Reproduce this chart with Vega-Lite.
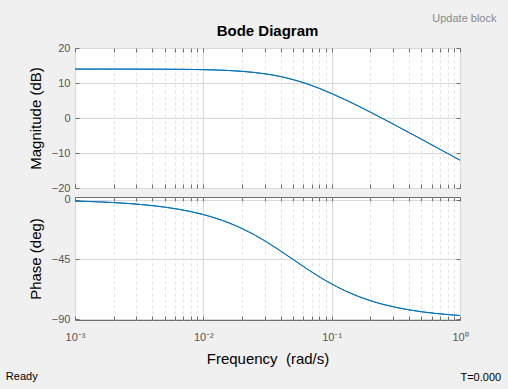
{
  "$schema": "https://vega.github.io/schema/vega-lite/v6.json",
  "background": "#f0f0f0",
  "padding": {"left": 5, "top": 12, "right": 8, "bottom": 7},
  "config": {
    "font": "Liberation Sans",
    "view": {"fill": "white", "stroke": "#6e6e6e", "strokeWidth": 1},
    "concat": {"spacing": 1},
    "axis": {
      "domain": false,
      "tickColor": "#6e6e6e",
      "tickSize": -4,
      "labelColor": "#555555",
      "labelFontSize": 11,
      "titleColor": "#000000",
      "titleFontSize": 15,
      "titleFontWeight": "normal",
      "gridColor": "#d9d9d9",
      "labelFlush": false,
      "labelOverlap": false
    },
    "title": {"fontSize": 15, "fontWeight": "bold", "color": "#000000", "offset": 3}
  },
  "title": {"text": "Ready", "orient": "bottom", "anchor": "start", "fontSize": 11, "fontWeight": "normal", "color": "#000000", "dx": -22, "dy": -21, "offset": 8},
  "datasets": {
    "bode": [
      {"f": 0.001, "mag": 13.977, "phase": -1.146},
      {"f": 0.0012589, "mag": 13.976, "phase": -1.442},
      {"f": 0.0015849, "mag": 13.975, "phase": -1.816},
      {"f": 0.0019953, "mag": 13.972, "phase": -2.285},
      {"f": 0.0025119, "mag": 13.968, "phase": -2.876},
      {"f": 0.0031623, "mag": 13.962, "phase": -3.619},
      {"f": 0.0039811, "mag": 13.952, "phase": -4.552},
      {"f": 0.0050119, "mag": 13.936, "phase": -5.724},
      {"f": 0.0063096, "mag": 13.910, "phase": -7.192},
      {"f": 0.0079433, "mag": 13.871, "phase": -9.027},
      {"f": 0.01, "mag": 13.809, "phase": -11.310},
      {"f": 0.012589, "mag": 13.712, "phase": -14.133},
      {"f": 0.015849, "mag": 13.563, "phase": -17.587},
      {"f": 0.019953, "mag": 13.337, "phase": -21.755},
      {"f": 0.025119, "mag": 13.002, "phase": -26.672},
      {"f": 0.031623, "mag": 12.518, "phase": -32.312},
      {"f": 0.039811, "mag": 11.846, "phase": -38.530},
      {"f": 0.050119, "mag": 10.958, "phase": -45.068},
      {"f": 0.063096, "mag": 9.842, "phase": -51.606},
      {"f": 0.079433, "mag": 8.509, "phase": -57.811},
      {"f": 0.1, "mag": 6.989, "phase": -63.435},
      {"f": 0.12589, "mag": 5.322, "phase": -68.339},
      {"f": 0.15849, "mag": 3.546, "phase": -72.492},
      {"f": 0.19953, "mag": 1.694, "phase": -75.931},
      {"f": 0.25119, "mag": -0.210, "phase": -78.742},
      {"f": 0.31623, "mag": -2.149, "phase": -81.015},
      {"f": 0.39811, "mag": -4.110, "phase": -82.841},
      {"f": 0.50119, "mag": -6.085, "phase": -84.303},
      {"f": 0.63096, "mag": -8.069, "phase": -85.469},
      {"f": 0.79433, "mag": -10.059, "phase": -86.398},
      {"f": 1, "mag": -12.052, "phase": -87.138}
    ]
  },
  "spacing": -1,
  "vconcat": [
    {
      "title": {"text": "Update block", "anchor": "end", "fontSize": 11, "fontWeight": "normal", "color": "#8a8a8a", "dx": 34, "offset": 0},
      "vconcat": [
        {
          "title": "Bode Diagram",
          "width": 385,
          "height": 140,
          "data": {"name": "bode"},
          "resolve": {"axis": {"x": "independent", "y": "independent"}},
          "layer": [
            {
              "mark": {"type": "line", "color": "#0072BD", "strokeWidth": 1, "interpolate": "monotone"},
              "encoding": {
                "x": {
                  "field": "f", "type": "quantitative",
                  "scale": {"type": "log", "domain": [0.001, 1], "nice": false},
                  "axis": {
                    "title": null,
                    "labels": false,
                    "maxExtent": 0,
                    "minExtent": 0,
                    "values": [0.001,0.002,0.003,0.004,0.005,0.006,0.007,0.008,0.009,0.01,0.02,0.03,0.04,0.05,0.06,0.07,0.08,0.09,0.1,0.2,0.3,0.4,0.5,0.6,0.7,0.8,0.9,1],
                    "gridDash": {"condition": {"test": "abs(log(datum.value)/LN10 - round(log(datum.value)/LN10)) < 0.000001", "value": []}, "value": [3, 3]},
                    "gridColor": {"condition": {"test": "abs(log(datum.value)/LN10 - round(log(datum.value)/LN10)) < 0.000001", "value": "#d9d9d9"}, "value": "#e3e3e3"}
                  }
                },
                "y": {
                  "field": "mag", "type": "quantitative",
                  "scale": {"domain": [-20, 20], "nice": false},
                  "axis": {"title": "Magnitude (dB)", "values": [-20, -10, 0, 10, 20], "labelPadding": 9, "titlePadding": 8}
                }
              }
            },
            {
              "mark": {"type": "line", "color": "#0072BD", "strokeWidth": 1, "interpolate": "monotone"},
              "encoding": {
                "x": {
                  "field": "f", "type": "quantitative",
                  "axis": {
                    "orient": "top", "title": null, "labels": false, "grid": false, "maxExtent": 0, "minExtent": 0,
                    "values": [0.001,0.002,0.003,0.004,0.005,0.006,0.007,0.008,0.009,0.01,0.02,0.03,0.04,0.05,0.06,0.07,0.08,0.09,0.1,0.2,0.3,0.4,0.5,0.6,0.7,0.8,0.9,1]
                  }
                },
                "y": {
                  "field": "mag", "type": "quantitative",
                  "axis": {"orient": "right", "title": null, "labels": false, "grid": false, "maxExtent": 0, "minExtent": 0, "values": [-20, -10, 0, 10, 20]}
                }
              }
            }
          ]
        }
      ]
    },
    {
      "title": {"text": "T=0.000", "orient": "bottom", "anchor": "end", "frame": "bounds", "fontSize": 11, "fontWeight": "normal", "color": "#000000", "dx": 33, "offset": 6},
      "width": 385,
      "height": 123,
      "data": {"name": "bode"},
      "resolve": {"axis": {"x": "independent", "y": "independent"}},
      "layer": [
        {
          "mark": {"type": "line", "color": "#0072BD", "strokeWidth": 1, "interpolate": "monotone"},
          "encoding": {
            "x": {
              "field": "f", "type": "quantitative",
              "scale": {"type": "log", "domain": [0.001, 1], "nice": false},
              "axis": {
                "title": "Frequency\u00a0 (rad/s)",
                "titlePadding": 9,
                "labelPadding": 15,
                "values": [0.001,0.002,0.003,0.004,0.005,0.006,0.007,0.008,0.009,0.01,0.02,0.03,0.04,0.05,0.06,0.07,0.08,0.09,0.1,0.2,0.3,0.4,0.5,0.6,0.7,0.8,0.9,1],
                "labelExpr": "datum.value == 0.001 ? '10⁻³' : datum.value == 0.01 ? '10⁻²' : datum.value == 0.1 ? '10⁻¹' : datum.value == 1 ? '10⁰' : ''",
                "gridDash": {"condition": {"test": "abs(log(datum.value)/LN10 - round(log(datum.value)/LN10)) < 0.000001", "value": []}, "value": [3, 3]},
                "gridColor": {"condition": {"test": "abs(log(datum.value)/LN10 - round(log(datum.value)/LN10)) < 0.000001", "value": "#d9d9d9"}, "value": "#e3e3e3"}
              }
            },
            "y": {
              "field": "phase", "type": "quantitative",
              "scale": {"domain": [-90.5, 1.9], "nice": false, "zero": false},
              "axis": {"title": "Phase (deg)", "values": [-90, -45, 0], "labelPadding": 9, "titlePadding": 8}
            }
          }
        },
        {
          "mark": {"type": "line", "color": "#0072BD", "strokeWidth": 1, "interpolate": "monotone"},
          "encoding": {
            "x": {
              "field": "f", "type": "quantitative",
              "axis": {
                "orient": "top", "title": null, "labels": false, "grid": false, "maxExtent": 0, "minExtent": 0,
                "values": [0.001,0.002,0.003,0.004,0.005,0.006,0.007,0.008,0.009,0.01,0.02,0.03,0.04,0.05,0.06,0.07,0.08,0.09,0.1,0.2,0.3,0.4,0.5,0.6,0.7,0.8,0.9,1]
              }
            },
            "y": {
              "field": "phase", "type": "quantitative",
              "axis": {"orient": "right", "title": null, "labels": false, "grid": false, "maxExtent": 0, "minExtent": 0, "values": [-90, -45, 0]}
            }
          }
        }
      ]
    }
  ]
}
